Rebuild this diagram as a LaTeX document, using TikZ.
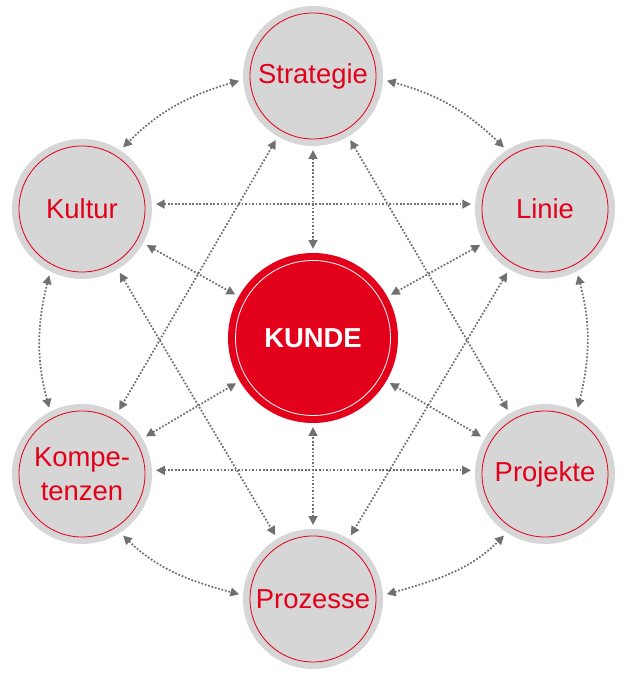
\documentclass[tikz,border=0pt]{standalone}
\usepackage{fontspec}
\setmainfont{Liberation Sans}
\usetikzlibrary{arrows.meta}
\definecolor{kunderot}{HTML}{E2001A}
\definecolor{feldgrau}{HTML}{D6D6D6}
\definecolor{pfeilgrau}{HTML}{707070}

\begin{document}
\begin{tikzpicture}[x=0.3mm, y=0.3mm,
  feld/.style={circle, minimum size=37.8mm, inner sep=0pt, outer sep=2.1mm,
    fill=feldgrau, draw=kunderot, line width=0.7pt, text=kunderot, align=center,
    font={\fontsize{23.4}{29.5}\selectfont},
    preaction={draw=feldgrau, line width=4.2mm}},
  kunde/.style={circle, minimum size=46.5mm, inner sep=0pt, outer sep=2.25mm,
    fill=kunderot, draw=white, line width=0.7pt, text=white,
    font={\fontsize{23.4}{29.5}\selectfont\bfseries},
    preaction={draw=kunderot, line width=4.5mm}},
  link/.style={pfeilgrau, line width=1.5pt, dash pattern=on 1.5pt off 1.5pt,
    {Triangle[length=7.5pt,width=7.5pt]}-{Triangle[length=7.5pt,width=7.5pt]},
    shorten <=3.5pt, shorten >=3.5pt}]
  \useasboundingbox (0,0) rectangle (626,674);

  % Kunde in the middle
  \node[kunde] (KUNDE) at (313,336) {KUNDE};

  % the six fields around
  \node[feld] (Strategie) at (313,598) {Strategie};
  \node[feld] (Kultur) at (82,465) {Kultur};
  \node[feld] (Linie) at (545,465) {Linie};
  \node[feld] (Kompetenzen) at (82,200) {Kompe-\\tenzen};
  \node[feld] (Projekte) at (545,200) {Projekte};
  \node[feld] (Prozesse) at (313,75) {Prozesse};

  % outer ring
  \draw[link] (Strategie.183) to[out=196,in=45] (Kultur.57);
  \draw[link] (Kultur.243) to[out=256,in=105] (Kompetenzen.117);
  \draw[link] (Kompetenzen.303) to[out=316,in=165] (Prozesse.177);
  \draw[link] (Prozesse.3) to[out=16,in=225] (Projekte.237);
  \draw[link] (Projekte.63) to[out=76,in=285] (Linie.297);
  \draw[link] (Linie.123) to[out=136,in=345] (Strategie.357);

  % spokes to the Kunde
  \draw[link] (Strategie) -- (KUNDE);
  \draw[link] (Kultur) -- (KUNDE);
  \draw[link] (Linie) -- (KUNDE);
  \draw[link] (Kompetenzen) -- (KUNDE);
  \draw[link] (Projekte) -- (KUNDE);
  \draw[link] (Prozesse) -- (KUNDE);

  % across
  \draw[link] (Kultur.4) -- (Linie.176);
  \draw[link] (Kompetenzen.3) -- (Projekte.177);
  \draw[link] (Strategie) -- (Kompetenzen);
  \draw[link] (Strategie) -- (Projekte);
  \draw[link] (Kultur) -- (Prozesse);
  \draw[link] (Linie) -- (Prozesse);
\end{tikzpicture}
\end{document}
